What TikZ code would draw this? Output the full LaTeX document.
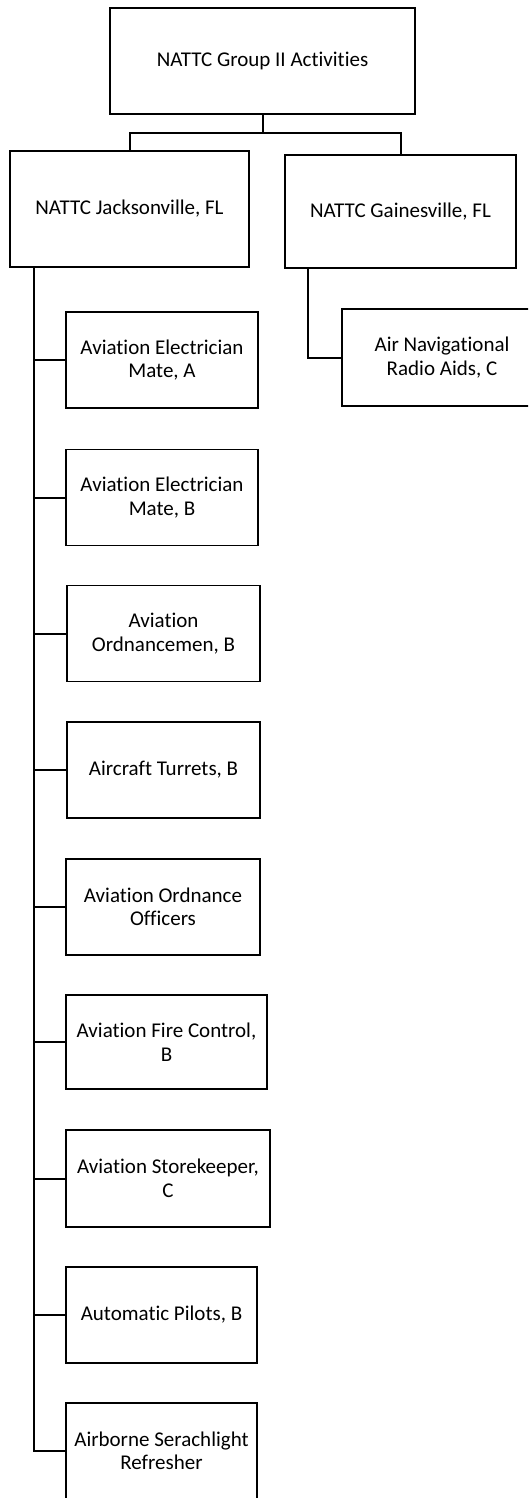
\documentclass[tikz,border=0pt]{standalone}
\usepackage{fontspec}
\setmainfont{Carlito}[Ligatures={NoCommon}]
\begin{document}
\begin{tikzpicture}[x=1pt,y=-1pt,
  box/.style={draw=black,line width=1.8pt,rectangle,inner sep=2pt,align=center,font=\fontsize{21}{23.5}\selectfont},
  link/.style={draw=black,line width=2pt},
  trunk/.style={draw=black,line width=2.8pt}]
\useasboundingbox (0,0) rectangle (528,1498);
\clip (0,0) rectangle (528,1498);
\node[box,minimum width=305pt,minimum height=106pt] (top) at (262.5,61) {NATTC Group II Activities};
\node[box,minimum width=239pt,minimum height=116pt] (jax) at (129.5,209) {NATTC Jacksonville, FL};
\node[box,minimum width=231pt,minimum height=113pt] (gai) at (400.5,211.5) {NATTC Gainesville, FL};
\node[box,minimum width=200pt,minimum height=97pt] (nav) at (442,357.5) {Air Navigational\\Radio Aids, C};
\node[box,minimum width=192pt,minimum height=96pt] (aea) at (162,360) {Aviation Electrician\\Mate, A};
\node[box,minimum width=192pt,minimum height=96pt] (aeb) at (162,497.5) {Aviation Electrician\\Mate, B};
\node[box,minimum width=193pt,minimum height=96pt] (aob) at (163.5,633.5) {Aviation\\Ordnancemen, B};
\node[box,minimum width=193pt,minimum height=96pt] (atb) at (163.5,770) {Aircraft Turrets, B};
\node[box,minimum width=194pt,minimum height=96pt] (aoo) at (163,907) {Aviation Ordnance\\Officers};
\node[box,minimum width=201pt,minimum height=94pt] (afc) at (166.5,1042) {Aviation Fire Control,\\B};
\node[box,minimum width=204pt,minimum height=97pt] (ask) at (168,1178.5) {Aviation Storekeeper,\\C};
\node[box,minimum width=191pt,minimum height=96pt] (apb) at (161.5,1315) {Automatic Pilots, B};
\node[box,minimum width=191pt,minimum height=96pt] (asr) at (161.5,1451) {Airborne Serachlight\\Refresher};
\coordinate (bus) at (263,133);
\coordinate (jx) at (34,267);
\coordinate (gx) at (308,268);
\draw[link] (top.south) -- (top.south |- bus) -| (jax.north);
\draw[link] (top.south |- bus) -| (gai.north);
\draw[link] (gx) |- (nav.west);
\draw[trunk] (jx) |- (asr.west);
\foreach \n in {aea,aeb,aob,atb,aoo,afc,ask,apb}{
  \draw[link] (jx |- \n.west) -- (\n.west);
}
\end{tikzpicture}
\end{document}
